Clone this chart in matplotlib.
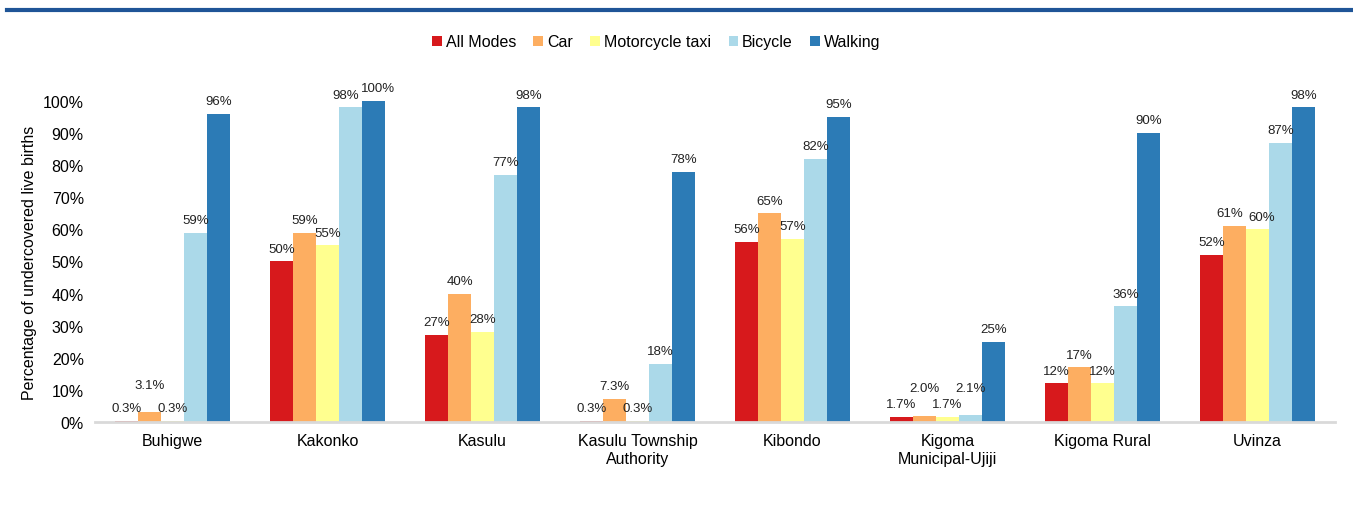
import numpy as np
import matplotlib.pyplot as plt
from matplotlib.lines import Line2D

plt.rcParams['font.family'] = ['Liberation Sans', 'DejaVu Sans']

districts = ['Buhigwe', 'Kakonko', 'Kasulu', 'Kasulu Township\nAuthority', 'Kibondo',
             'Kigoma\nMunicipal-Ujiji', 'Kigoma Rural', 'Uvinza']
modes = ['All Modes', 'Car', 'Motorcycle taxi', 'Bicycle', 'Walking']

all_modes = [0.3, 50, 27, 0.3, 56, 1.7, 12, 52]
car = [3.1, 59, 40, 7.3, 65, 2.0, 17, 61]
motorcycle = [0.3, 55, 28, 0.3, 57, 1.7, 12, 60]
bicycle = [59, 98, 77, 18, 82, 2.1, 36, 87]
walking = [96, 100, 98, 78, 95, 25, 90, 98]

series = [all_modes, car, motorcycle, bicycle, walking]
colors = ['#D7191C', '#FDAE61', '#FFFF8F', '#ABD9E9', '#2C7BB6']

fig = plt.figure(figsize=(13.53, 5.10), dpi=100)
ax = fig.add_axes([0.0702, 0.1706, 0.9165, 0.6294])

x = np.arange(len(districts))
w = 0.148
for i, (vals, col, name) in enumerate(zip(series, colors, modes)):
    ax.bar(x + (i - 2) * w, vals, w, color=col, label=name, zorder=2)

# data labels, nudged like Excel does when neighbours collide
for g in range(len(districts)):
    vals = [s[g] for s in series]
    dy = [0.0] * 5
    dx = [0.0] * 5
    for i in range(1, 5):
        if abs(vals[i] - vals[i - 1]) < 3 and dy[i - 1] == 0:
            if vals[i] < 10:
                dy[i] = 4.5
            else:
                dx[i - 1] -= 0.03
                dx[i] += 0.03
    for i, v in enumerate(vals):
        txt = f'{v:.1f}%' if v < 10 else f'{v:.0f}%'
        ax.text(g + (i - 2) * w + dx[i], v + 4.0 + dy[i], txt, ha='center', va='center',
                fontsize=9.5, color='#222222')

ax.set_xlim(-0.5, 7.5)
ax.set_ylim(0, 100)
ax.set_yticks(np.arange(0, 101, 10))
ax.set_yticklabels([f'{t}%' for t in range(0, 101, 10)], fontsize=11.5)
ax.set_xticks(x)
ax.set_xticklabels(districts, fontsize=11.5)
ax.tick_params(length=0, pad=8)
ax.set_ylabel('Percentage of undercovered live births', fontsize=11.5)

for s in ['top', 'right', 'left']:
    ax.spines[s].set_visible(False)
ax.spines['bottom'].set_color('#D9D9D9')
ax.spines['bottom'].set_linewidth(2)

fig.legend(*ax.get_legend_handles_labels(), loc='center', bbox_to_anchor=(0.485, 0.916),
           ncol=5, frameon=False, fontsize=11.5, handlelength=0.6, handleheight=0.6,
           handletextpad=0.25, columnspacing=1.1)

fig.add_artist(Line2D([0.005, 1.0], [0.978, 0.978], color='#1F5597', linewidth=3))

fig.savefig('out.png', dpi=100)
